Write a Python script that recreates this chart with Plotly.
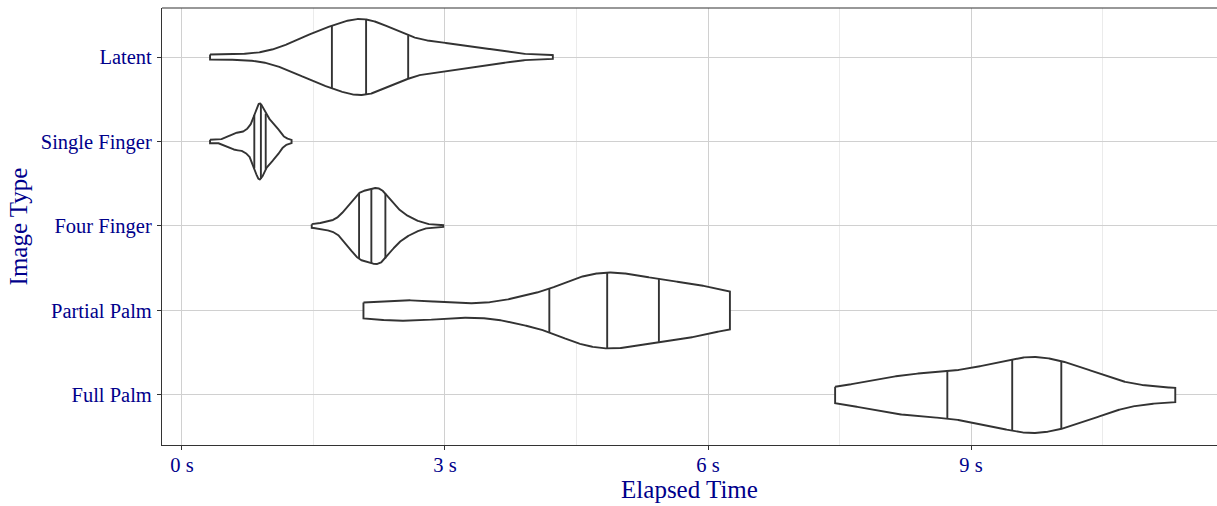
import numpy as np
import plotly.graph_objects as go

# ---------------- data ----------------
categories = ["Full Palm", "Partial Palm", "Four Finger", "Single Finger", "Latent"]

# density profiles: elapsed time (s) and relative density (max = 1)
latent_t = [0.32, 0.66, 0.85, 0.95, 1.04, 1.13, 1.23, 1.33, 1.42, 1.55, 1.71, 1.84, 2.03, 2.10, 2.29, 2.45, 2.58, 2.75, 3.02, 3.32, 3.63, 3.89, 4.23]
latent_d = [0.06, 0.07, 0.09, 0.13, 0.18, 0.25, 0.34, 0.44, 0.54, 0.66, 0.78, 0.89, 1.00, 0.97, 0.83, 0.66, 0.52, 0.41, 0.35, 0.26, 0.16, 0.07, 0.045]

single_t = [0.32, 0.43, 0.53, 0.62, 0.67, 0.74, 0.80, 0.825, 0.88, 0.90, 0.955, 1.02, 1.08, 1.155, 1.25]
single_d = [0.04, 0.035, 0.12, 0.22, 0.19, 0.28, 0.40, 0.62, 1.00, 0.93, 0.60, 0.47, 0.36, 0.10, 0.03]

four_t = [1.48, 1.57, 1.73, 1.80, 1.92, 2.02, 2.09, 2.16, 2.23, 2.32, 2.37, 2.49, 2.64, 2.79, 2.98]
four_d = [0.04, 0.07, 0.14, 0.24, 0.59, 0.87, 0.89, 0.93, 1.00, 0.85, 0.66, 0.37, 0.17, 0.045, 0.02]

partial_t = [2.07, 2.30, 2.49, 2.75, 2.98, 3.32, 3.63, 3.93, 4.19, 4.50, 4.85, 5.15, 5.44, 5.91, 6.25]
partial_d = [0.19, 0.25, 0.27, 0.25, 0.21, 0.17, 0.23, 0.39, 0.53, 0.85, 1.00, 0.92, 0.79, 0.66, 0.45]

full_t = [7.45, 7.90, 8.32, 8.73, 9.05, 9.47, 9.71, 10.03, 10.38, 10.76, 11.06, 11.33]
full_d = [0.19, 0.39, 0.54, 0.59, 0.70, 0.92, 1.00, 0.88, 0.61, 0.31, 0.22, 0.175]

profiles = {
    "Full Palm": (full_t, full_d),
    "Partial Palm": (partial_t, partial_d),
    "Four Finger": (four_t, four_d),
    "Single Finger": (single_t, single_d),
    "Latent": (latent_t, latent_d),
}

# quartiles (25%, 50%, 75%) in seconds
quartiles = {
    "Full Palm": [8.73, 9.47, 10.03],
    "Partial Palm": [4.19, 4.85, 5.44],
    "Four Finger": [2.02, 2.16, 2.32],
    "Single Finger": [0.825, 0.90, 0.955],
    "Latent": [1.71, 2.10, 2.58],
}

x_ticks = [0, 3, 6, 9]
x_tick_labels = [f"{v} s" for v in x_ticks]

# ---------------- helpers ----------------
def smooth_profile(t, d, n=600, rel_sigma=0.03):
    t = np.asarray(t, float); d = np.asarray(d, float)
    tt = np.linspace(t[0], t[-1], n)
    lin = np.interp(tt, t, d)
    step = tt[1] - tt[0]
    sigma = rel_sigma * (t[-1] - t[0]) / step
    k = int(np.ceil(3 * sigma))
    xk = np.arange(-k, k + 1)
    ker = np.exp(-0.5 * (xk / sigma) ** 2)
    ker /= ker.sum()
    padded = np.concatenate([np.full(k, lin[0]), lin, np.full(k, lin[-1])])
    sm = np.convolve(padded, ker, mode="valid")
    return tt, sm

HALF = 0.45
LINE = "#333333"

fig = go.Figure()
for i, cat in enumerate(categories):
    pos = i + 1
    t, d = profiles[cat]
    tt, dd = smooth_profile(t, d)
    dd = np.clip(dd, 0.01, None)
    dd = dd / dd.max() * HALF
    xs = np.concatenate([tt, tt[::-1], tt[:1]])
    ys = np.concatenate([pos + dd, (pos - dd)[::-1], [pos + dd[0]]])
    fig.add_trace(go.Scatter(x=xs, y=ys, mode="lines", fill="toself",
                             fillcolor="white", line=dict(color=LINE, width=1.9),
                             hoverinfo="skip", showlegend=False))
    qx, qy = [], []
    for q in quartiles[cat]:
        w = float(np.interp(q, tt, dd))
        qx += [q, q, None]
        qy += [pos - w, pos + w, None]
    fig.add_trace(go.Scatter(x=qx, y=qy, mode="lines",
                             line=dict(color=LINE, width=1.9),
                             hoverinfo="skip", showlegend=False))

FONT = "Liberation Serif"
TXT = "#00008B"

fig.update_layout(
    width=1217, height=506,
    margin=dict(l=162, r=0, t=8, b=61),
    paper_bgcolor="white", plot_bgcolor="white",
    font=dict(family=FONT, color=TXT),
    xaxis=dict(
        range=[-0.228, 11.806], tickvals=x_ticks, ticktext=x_tick_labels,
        showgrid=True, gridcolor="#d0d0d0", gridwidth=1.1,
        minor=dict(dtick=1.5, tick0=0, showgrid=True, gridcolor="#ebebeb", gridwidth=0.8, ticklen=0),
        zeroline=False, showline=True, linecolor=LINE, linewidth=1.2,
        ticks="outside", ticklen=4, tickcolor=LINE, tickwidth=1.2,
        tickfont=dict(size=20.5, color=TXT, family=FONT),
        ticklabelstandoff=-3, automargin=False,
        title=dict(text="Elapsed Time", font=dict(size=25, color=TXT, family=FONT), standoff=3),
    ),
    yaxis=dict(
        range=[0.408, 5.58], tickvals=[i + 1 for i in range(len(categories))],
        ticktext=categories,
        showgrid=True, gridcolor="#d0d0d0", gridwidth=1.1,
        zeroline=False, showline=True, linecolor=LINE, linewidth=1.2,
        ticks="outside", ticklen=4, tickcolor=LINE, tickwidth=1.2,
        tickfont=dict(size=20.5, color=TXT, family=FONT),
        ticklabelstandoff=1, automargin=False,
        title=dict(text="Image Type", font=dict(size=25, color=TXT, family=FONT), standoff=6),
    ),
    shapes=[dict(type="line", xref="paper", yref="paper", x0=0, x1=1, y0=1, y1=1,
                 line=dict(color=LINE, width=1.2))],
)

fig.write_html("out.html", config={"displayModeBar": False},
               post_script="document.body.style.margin='0';")
